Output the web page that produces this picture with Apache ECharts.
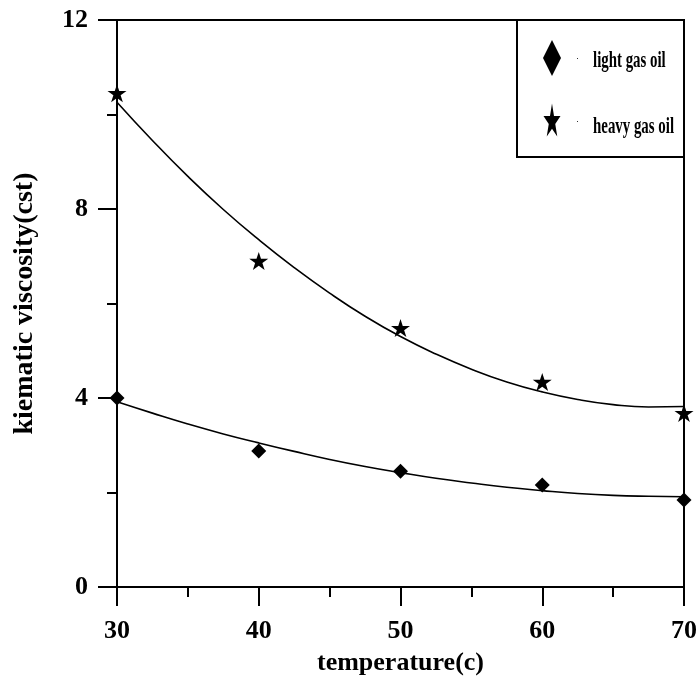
<!DOCTYPE html>
<html>
<head>
<meta charset="utf-8">
<style>
  html, body { margin: 0; padding: 0; background: #fff; overflow: hidden; }
  #chart { width: 698px; height: 676px; }
</style>
<script src="https://cdn.jsdelivr.net/npm/echarts@6/dist/echarts.min.js"></script>
</head>
<body>
<div id="chart"></div>
<script>
// Measured kinematic viscosity of the two gas oils
const temperatures = [30, 40, 50, 60, 70];
const lightGasOil = [4.00, 2.88, 2.45, 2.16, 1.84];
const heavyGasOil = [10.45, 6.90, 5.48, 4.34, 3.68];

// Fitted trend curves, read at 2.5 °C steps
const trendTemperatures = [30, 32.5, 35, 37.5, 40, 42.5, 45, 47.5, 50, 52.5, 55, 57.5, 60, 62.5, 65, 67.5, 70];
const lightTrend = [3.92, 3.68, 3.45, 3.24, 3.05, 2.87, 2.70, 2.55, 2.42, 2.30, 2.20, 2.11, 2.04, 1.98, 1.94, 1.92, 1.91];
const heavyTrend = [10.26, 9.45, 8.69, 7.99, 7.35, 6.76, 6.22, 5.73, 5.30, 4.93, 4.61, 4.34, 4.13, 3.97, 3.86, 3.81, 3.82];

const seriesNames = ['light gas oil', 'heavy gas oil'];
const xTitle = 'temperature(c)';
const yTitle = 'kiematic viscosity(cst)';

const FONT = 'Liberation Serif, Times New Roman, serif';

// five-point star outline (unit radius)
const starPts = [
  [0, -1], [0.2245, -0.309], [0.9511, -0.309], [0.3633, 0.118], [0.5878, 0.809],
  [0, 0.382], [-0.5878, 0.809], [-0.3633, 0.118], [-0.9511, -0.309], [-0.2245, -0.309]
];
const starPath = 'path://M' + starPts.map(p => p[0] + ',' + p[1]).join('L') + 'Z';

const pairs = (xs, ys) => xs.map((x, i) => [x, ys[i]]);

// fit the star's bounding box into w x h centred on (cx, cy)
function starPolygon(cx, cy, w, h) {
  const minY = -1, maxY = 0.809, minX = -0.9511, maxX = 0.9511;
  return starPts.map(p => [
    cx + (p[0] - (minX + maxX) / 2) / (maxX - minX) * w,
    cy + (p[1] - (minY + maxY) / 2) / (maxY - minY) * h
  ]);
}

const chart = echarts.init(document.getElementById('chart'));

const axisCommon = {
  axisLine: { show: true, onZero: false, lineStyle: { color: '#000', width: 2 } },
  axisTick: { show: true, inside: false, length: 19, lineStyle: { color: '#000', width: 2 } },
  minorTick: { show: true, splitNumber: 2, length: 10, lineStyle: { color: '#000', width: 2 } },
  splitLine: { show: false },
  minorSplitLine: { show: false },
  nameLocation: 'middle',
  nameTextStyle: { color: '#000', fontFamily: FONT, fontWeight: 'bold', fontSize: 26 },
  axisLabel: { color: '#000', fontFamily: FONT, fontWeight: 'bold', fontSize: 26 }
};

const trendLine = { color: '#000', width: 1.6 };

chart.setOption({
  backgroundColor: '#fff',
  animation: false,
  grid: {
    left: 117, right: 14, top: 20, bottom: 89,
    containLabel: false, outerBoundsMode: 'none',
    show: true, borderColor: '#000', borderWidth: 2, backgroundColor: 'transparent'
  },
  xAxis: Object.assign({}, axisCommon, {
    type: 'value', min: 30, max: 70, interval: 10,
    name: xTitle, nameGap: 63,
    axisLabel: Object.assign({}, axisCommon.axisLabel, { margin: 31 })
  }),
  yAxis: Object.assign({}, axisCommon, {
    type: 'value', min: 0, max: 12, interval: 4,
    name: yTitle, nameGap: 78, nameRotate: 90,
    nameTextStyle: Object.assign({}, axisCommon.nameTextStyle, { fontSize: 28 }),
    axisLabel: Object.assign({}, axisCommon.axisLabel, { margin: 29 })
  }),
  series: [
    {
      name: seriesNames[0] + ' trend', type: 'line', smooth: true,
      showSymbol: false, silent: true, lineStyle: trendLine,
      data: pairs(trendTemperatures, lightTrend), z: 2
    },
    {
      name: seriesNames[1] + ' trend', type: 'line', smooth: true,
      showSymbol: false, silent: true, lineStyle: trendLine,
      data: pairs(trendTemperatures, heavyTrend), z: 2
    },
    {
      name: seriesNames[0], type: 'scatter', symbol: 'diamond', symbolSize: [15, 15],
      itemStyle: { color: '#000', opacity: 1 },
      data: pairs(temperatures, lightGasOil), z: 3
    },
    {
      name: seriesNames[1], type: 'scatter', symbol: starPath, symbolSize: [19, 18],
      itemStyle: { color: '#000', opacity: 1 },
      data: pairs(temperatures, heavyGasOil), z: 3
    }
  ],
  graphic: [
    {
      type: 'group', z: 100,
      children: [
        { type: 'rect', shape: { x: 517, y: 20, width: 167, height: 137 },
          style: { fill: '#fff', stroke: '#000', lineWidth: 2 } },
        { type: 'polygon', shape: { points: [[552, 40], [561, 58], [552, 76], [543, 58]] },
          style: { fill: '#000' } },
        { type: 'polygon', shape: { points: starPolygon(552, 120, 17, 33) },
          style: { fill: '#000' } },
        { type: 'rect', shape: { x: 577, y: 58, width: 1, height: 1 }, style: { fill: '#333' } },
        { type: 'rect', shape: { x: 577, y: 121, width: 1, height: 1 }, style: { fill: '#333' } },
        { type: 'text', x: 593, y: 61, scaleX: 0.62,
          style: { text: seriesNames[0], x: 0, y: 0, verticalAlign: 'middle', fill: '#000',
                   font: 'bold 24px ' + FONT } },
        { type: 'text', x: 593, y: 127, scaleX: 0.62,
          style: { text: seriesNames[1], x: 0, y: 0, verticalAlign: 'middle', fill: '#000',
                   font: 'bold 24px ' + FONT } }
      ]
    }
  ]
});
</script>
</body>
</html>
